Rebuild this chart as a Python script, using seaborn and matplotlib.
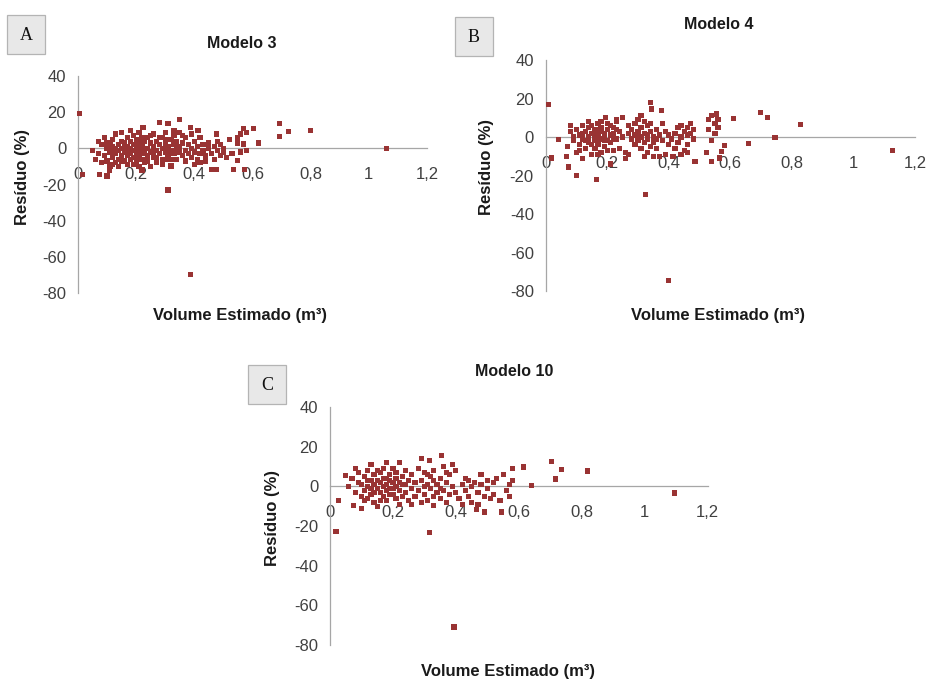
import pandas as pd
import matplotlib
matplotlib.use("Agg")
import matplotlib.pyplot as plt
import seaborn as sns
from matplotlib.patches import Rectangle

# residuals (%) vs estimated volume (m3)
modelo3 = [
    (0.006, 19.2), (0.017, -14.3), (0.075, -14.3), (0.10, -15.3), (0.109, -12),
    (0.05, -1), (0.06, -6), (0.07, -3), (0.07, 4), (0.08, -8), (0.08, 2), (0.09, -4),
    (0.09, 6), (0.10, 0), (0.10, -7), (0.10, 3), (0.11, -2), (0.11, -10), (0.12, 5),
    (0.12, -5), (0.12, 1), (0.13, -3), (0.13, 8), (0.13, -8), (0.14, 2), (0.14, -1),
    (0.14, -6), (0.15, 4), (0.15, -4), (0.15, 0), (0.15, 9),
    (0.16, -2), (0.16, 3), (0.16, -7), (0.17, 1), (0.17, 6), (0.17, -4), (0.17, -9),
    (0.18, 0), (0.18, -3), (0.18, 4), (0.18, 10), (0.19, -1), (0.19, -5), (0.19, 2),
    (0.19, 7), (0.20, -2), (0.20, 1), (0.20, -8), (0.20, 5), (0.21, 0), (0.21, -4),
    (0.21, 3), (0.21, 9), (0.22, -1), (0.22, -6), (0.22, 2), (0.22, -12), (0.23, 4),
    (0.23, -3), (0.224, 11.7), (0.24, 0), (0.24, -7), (0.24, 6), (0.25, -2), (0.25, 3),
    (0.25, -10),
    (0.11, 3), (0.12, -9), (0.13, 0), (0.14, -10), (0.15, -7), (0.16, 0), (0.17, -2),
    (0.18, -6), (0.19, -9), (0.20, -5), (0.20, 3), (0.21, -10), (0.22, 6), (0.23, -8),
    (0.23, 0), (0.24, -4), (0.25, 7), (0.26, -2), (0.27, -5), (0.28, 6), (0.29, -9),
    (0.30, -6), (0.31, 5), (0.32, -6), (0.33, 10), (0.36, 7), (0.40, -9), (0.42, 6),
    (0.26, 1), (0.26, -5), (0.26, 8), (0.27, -1), (0.27, 4), (0.27, -8), (0.28, 2),
    (0.28, -3), (0.28, 14.3), (0.29, 6), (0.29, 0), (0.29, -6), (0.30, 3), (0.30, -2),
    (0.30, 9), (0.31, 1), (0.31, -4), (0.31, 13.6), (0.31, -23), (0.32, 5), (0.32, -1),
    (0.32, -9.7), (0.33, 2), (0.33, 7), (0.33, -3), (0.34, 0), (0.34, 4), (0.34, -6),
    (0.348, 16), (0.35, 1), (0.35, -2), (0.35, 9),
    (0.36, -4), (0.36, 3), (0.37, -1), (0.37, 6), (0.37, -7), (0.388, 11.7), (0.38, -3),
    (0.38, 2), (0.39, 0), (0.39, -5), (0.39, 8), (0.387, -69.8), (0.40, -2), (0.40, 4),
    (0.41, -6), (0.413, 9.9), (0.41, 1), (0.42, -3), (0.42, -8), (0.43, 2), (0.43, -1),
    (0.44, -4), (0.44, -7), (0.45, 0), (0.45, 3),
    (0.459, -11.5), (0.46, -3), (0.47, 1), (0.47, -6), (0.476, 8), (0.48, 4), (0.48, -1),
    (0.476, -11.5), (0.49, 2), (0.49, -4), (0.50, 0), (0.50, -2), (0.51, -5), (0.52, 5),
    (0.53, -3), (0.55, 6), (0.534, -11.5), (0.548, -6.5), (0.55, 3), (0.56, 8),
    (0.56, -2), (0.568, 10.8), (0.568, 2.4), (0.574, -11.5), (0.58, 9), (0.58, -1),
    (0.605, 11.2), (0.621, 3), (0.692, 13.6), (0.694, 6.7), (0.724, 9.5), (0.80, 9.9),
    (1.06, 0),
]

modelo4 = [
    (0.008, 16.8), (0.018, -10.9), (0.043, -1.2), (0.067, -10), (0.073, -15.6),
    (0.10, -20), (0.165, -22),
    (0.07, -5), (0.08, 3), (0.08, 6), (0.09, -2), (0.09, 0), (0.10, -8), (0.10, 4),
    (0.11, 1), (0.11, -4), (0.12, 6), (0.12, -11), (0.12, -1), (0.13, 3), (0.13, -6),
    (0.14, 0), (0.14, 5), (0.14, -3), (0.15, 2), (0.15, -9), (0.15, 6),
    (0.16, -2), (0.16, 4), (0.16, -6), (0.17, 1), (0.17, -4), (0.17, 7), (0.18, 3),
    (0.18, -1), (0.18, 5), (0.18, -8), (0.19, 0), (0.19, 2), (0.19, -5), (0.20, 4),
    (0.20, -2), (0.195, 10.2), (0.20, 7), (0.21, 1), (0.21, -3), (0.21, -14), (0.22, 5),
    (0.22, -7), (0.22, 2), (0.23, 8), (0.23, -1), (0.23, 9), (0.24, 3), (0.24, -6),
    (0.25, 10.2), (0.25, 0), (0.26, -8), (0.26, -11), (0.27, 2), (0.27, -9),
    (0.11, -7), (0.12, 2), (0.13, -2), (0.14, 8), (0.15, -4), (0.16, 1), (0.17, -9),
    (0.18, 8), (0.19, -2), (0.20, -7), (0.21, 6), (0.22, -1), (0.23, 4), (0.31, -6),
    (0.32, 8), (0.33, -8), (0.34, 7), (0.36, -1), (0.44, -9), (0.46, -8), (0.29, -4),
    (0.27, 6),
    (0.28, 4), (0.28, -1), (0.29, 1), (0.29, 7), (0.30, -2), (0.30, 3), (0.30, 9),
    (0.31, 0), (0.31, 5), (0.31, 11), (0.32, -3), (0.32, 2), (0.32, -10), (0.33, 6),
    (0.33, -1), (0.33, 1), (0.34, 18), (0.34, 3), (0.34, -5), (0.345, 14.6), (0.35, -3),
    (0.35, 0), (0.35, -10), (0.36, 4), (0.36, -6), (0.376, 13.7), (0.37, 1), (0.37, -10),
    (0.38, -2), (0.38, 7), (0.39, 3), (0.39, -9), (0.40, -4), (0.40, 1),
    (0.398, -74.6), (0.325, -29.8),
    (0.414, -10), (0.41, -1), (0.42, 2), (0.42, -6), (0.43, 5), (0.43, -3), (0.44, 0),
    (0.44, 6), (0.45, -7), (0.45, 3), (0.46, 1), (0.46, 5), (0.46, -4), (0.47, 7),
    (0.47, 2), (0.48, 4), (0.48, -1), (0.485, -12.6),
    (0.522, -8.2), (0.53, 9), (0.53, 4), (0.54, 11), (0.54, -2), (0.539, -12.6),
    (0.55, 7), (0.55, 2), (0.555, 12), (0.56, 9), (0.56, 5), (0.566, -10.9),
    (0.571, -7.4), (0.582, -4.2),
    (0.611, 9.8), (0.659, -3.5), (0.698, 12.8), (0.72, 10.2), (0.745, -0.4),
    (0.828, 6.3), (1.126, -6.8),
]

modelo10 = [
    (0.019, -22.7), (0.026, -7), (0.05, 5.5),
    (0.06, 0), (0.07, 4), (0.074, -9.6), (0.08, 9), (0.08, -3), (0.09, 2), (0.09, 7),
    (0.10, -5), (0.10, -11.3), (0.10, 1), (0.11, 5), (0.11, -2), (0.12, 8), (0.12, -6),
    (0.12, 0), (0.13, 3), (0.13, 11), (0.13, -4), (0.14, 1), (0.14, -8), (0.14, 6),
    (0.15, -1), (0.15, 3), (0.15, -10),
    (0.16, 2), (0.16, -3), (0.16, 7), (0.17, 0), (0.17, -5), (0.17, 4), (0.18, 1),
    (0.18, 12), (0.18, -2), (0.18, -7), (0.19, 3), (0.19, -1), (0.19, 6), (0.20, -4),
    (0.20, 2), (0.20, 9), (0.21, 0), (0.21, -6), (0.21, 4), (0.22, -2), (0.22, 12),
    (0.22, -9), (0.23, 5), (0.23, 1), (0.24, -3), (0.24, 8), (0.25, -7), (0.25, 3),
    (0.26, -1), (0.26, 6), (0.27, -5), (0.27, 2),
    (0.11, -7), (0.12, 3), (0.13, -1), (0.14, -3), (0.15, 8), (0.16, -7), (0.17, 9),
    (0.18, 4), (0.19, -4), (0.20, -1), (0.21, 7), (0.22, 2), (0.23, -5), (0.24, 1),
    (0.26, -9), (0.29, -8), (0.31, 6), (0.33, -5), (0.35, -1), (0.37, 7), (0.44, 3),
    (0.47, -9), (0.52, 2),
    (0.28, 9), (0.28, -2), (0.29, 14), (0.29, 3), (0.30, -4), (0.30, 7), (0.30, 0),
    (0.31, 1), (0.31, -7), (0.317, 13), (0.32, 5), (0.32, -1), (0.328, -9.6), (0.33, 3),
    (0.33, 8), (0.34, -3), (0.34, 1), (0.35, -6), (0.354, 15.6), (0.35, 4), (0.36, 10),
    (0.36, -2), (0.37, -8), (0.37, 2), (0.38, 6), (0.38, -4), (0.39, 11), (0.39, 0),
    (0.40, -3), (0.40, 8), (0.317, -23.5), (0.394, -70.9),
    (0.41, -6), (0.42, 1), (0.42, -9), (0.43, 4), (0.43, -2), (0.44, -5), (0.45, 0),
    (0.45, -8), (0.46, 2), (0.465, -11.8), (0.47, -3), (0.48, 1), (0.48, 6),
    (0.49, -13), (0.49, -5), (0.50, 3), (0.50, -1), (0.51, -6), (0.52, -4), (0.53, 4),
    (0.54, -7), (0.545, -13), (0.55, 6), (0.56, -2), (0.57, 1), (0.57, -5), (0.58, 9),
    (0.58, 3),
    (0.616, 9.7), (0.64, 0.5), (0.703, 12.3), (0.717, 3.7), (0.735, 8.6),
    (0.819, 7.7), (1.094, -3.4),
]

titles = ["Modelo 3", "Modelo 4", "Modelo 10"]
letters = ["A", "B", "C"]
x_ticks = [0, 0.2, 0.4, 0.6, 0.8, 1.0, 1.2]
x_tick_labels = ["0", "0,2", "0,4", "0,6", "0,8", "1", "1,2"]
y_ticks = [-80, -60, -40, -20, 0, 20, 40]

sns.set_theme(style="white")
plt.rcParams["font.family"] = ["Liberation Sans", "DejaVu Sans"]
plt.rcParams["axes.unicode_minus"] = False

fig = plt.figure(figsize=(9.28, 6.82), dpi=100)

# plot areas (figure fractions), letter boxes (pixels), label positions (axes fractions)
areas = [
    [0.084, 0.5704, 0.376, 0.318],
    [0.588, 0.5733, 0.398, 0.3387],
    [0.3556, 0.0543, 0.407, 0.349],
]
boxes = [(7, 15), (455, 17), (248, 365)]
xlabel_pos = [(0.464, -0.069), (0.466, -0.074), (0.471, -0.08)]
ylabel_pos = [(-0.137, 0.535), (-0.141, 0.535), (-0.132, 0.535)]
title_pos = [(0.47, 1.152), (0.469, 1.152), (0.487, 1.151)]

for i, (data, title, letter) in enumerate(zip([modelo3, modelo4, modelo10], titles, letters)):
    df = pd.DataFrame(data, columns=["volume", "residuo"])
    ax = fig.add_axes(areas[i])
    sns.scatterplot(data=df, x="volume", y="residuo", ax=ax, marker="s",
                    s=14, color="#993333", edgecolor="none", linewidth=0,
                    clip_on=False, zorder=3)
    ax.set_xlim(0, 1.2)
    ax.set_ylim(-80, 40)
    ax.set_xticks(x_ticks)
    ax.set_xticklabels(x_tick_labels)
    ax.set_yticks(y_ticks)
    for s in ["top", "right"]:
        ax.spines[s].set_visible(False)
    ax.spines["bottom"].set_position(("data", 0))
    for s in ["left", "bottom"]:
        ax.spines[s].set_color("#a6a6a6")
        ax.spines[s].set_linewidth(0.9)
    ax.tick_params(axis="both", direction="inout", length=7, width=0.9,
                   color="#a6a6a6", labelcolor="#404040", labelsize=12)
    ax.tick_params(axis="x", pad=10)
    ax.tick_params(axis="y", pad=5)
    ax.set_xlabel("Volume Estimado (m³)", fontsize=12, fontweight="bold",
                  color="#1a1a1a")
    ax.set_ylabel("Resíduo (%)", fontsize=12, fontweight="bold", color="#1a1a1a")
    ax.xaxis.set_label_coords(*xlabel_pos[i])
    ax.yaxis.set_label_coords(*ylabel_pos[i])
    ax.text(*title_pos[i], title, transform=ax.transAxes, ha="center",
            va="center", fontsize=11.5, fontweight="bold", color="#1a1a1a")
    ax.patch.set_alpha(0)

    bx, by = boxes[i]
    fig.patches.append(Rectangle((bx / 928, 1 - (by + 39) / 682), 38 / 928, 39 / 682,
                                 transform=fig.transFigure, facecolor="#e8e8e8",
                                 edgecolor="#b4b4b4", linewidth=0.9))
    fig.text((bx + 19) / 928, 1 - (by + 20) / 682, letter, ha="center", va="center",
             fontsize=13, family=["Liberation Serif", "DejaVu Serif"], color="#111111")

fig.savefig("out.png", dpi=100)
